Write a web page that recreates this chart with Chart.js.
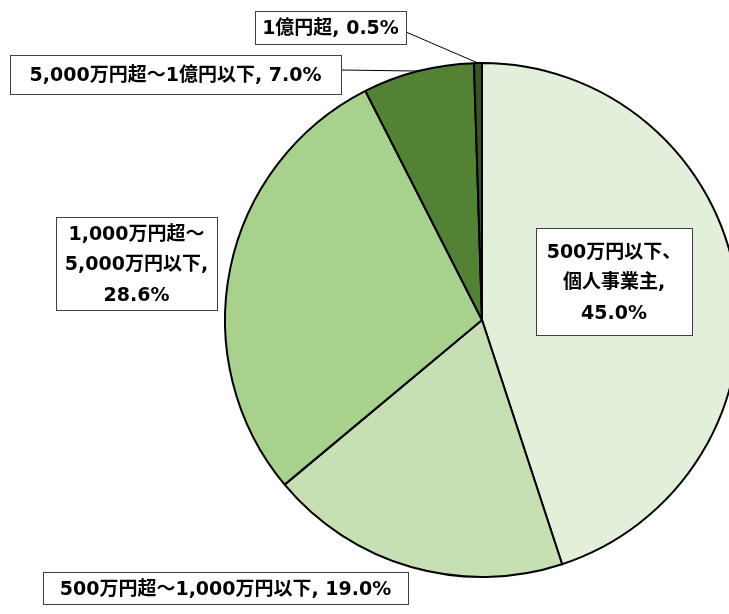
<!DOCTYPE html>
<html>
<head>
<meta charset="utf-8">
<script src="https://cdn.jsdelivr.net/npm/chart.js@4.4.1/dist/chart.umd.min.js"></script>
<style>
  html, body { margin: 0; padding: 0; background: #ffffff; overflow: hidden; }
  #wrap { width: 729px; height: 614px; overflow: hidden; }
</style>
</head>
<body>
<div id="wrap"><canvas id="pie" width="760" height="614"></canvas></div>
<script>
const categories = [
  "500万円以下、個人事業主",
  "500万円超～1,000万円以下",
  "1,000万円超～5,000万円以下",
  "5,000万円超～1億円以下",
  "1億円超",
];
const shares = [45.0, 19.0, 28.6, 7.0, 0.5];
const sliceColors = ["#E2EFDA", "#C6E0B4", "#A9D18E", "#548235", "#375623"];

// label text lines per slice
const labelLines = [
  ["500万円以下、", "個人事業主,", "45.0%"],
  ["500万円超～1,000万円以下, 19.0%"],
  ["1,000万円超～", "5,000万円以下,", "28.6%"],
  ["5,000万円超～1億円以下, 7.0%"],
  ["1億円超, 0.5%"],
];

// label box placement (left, top, right, bottom); leaderY = where the leader line leaves the box
const labelBoxes = [
  { x1: 536, y1: 228, x2: 692, y2: 335 },
  { x1: 43, y1: 572, x2: 408, y2: 604 },
  { x1: 56, y1: 217, x2: 217, y2: 310 },
  { x1: 10, y1: 55, x2: 341, y2: 94, leaderY: 70 },
  { x1: 255, y1: 11, x2: 406, y2: 44, leaderY: 32 },
];

const labelFont = 'bold 19px "DejaVu Sans", "Noto Sans CJK JP", sans-serif';

const boxLabels = {
  id: "boxLabels",
  afterDraw(chart) {
    const ctx = chart.ctx;
    const arcs = chart.getDatasetMeta(0).data;
    ctx.save();
    labelBoxes.forEach((b, i) => {
      const arc = arcs[i];
      if (b.leaderY !== undefined) {
        const mid = (arc.startAngle + arc.endAngle) / 2;
        const ex = arc.x + arc.outerRadius * Math.cos(mid);
        const ey = arc.y + arc.outerRadius * Math.sin(mid);
        ctx.beginPath();
        ctx.strokeStyle = "#000000";
        ctx.lineWidth = 1;
        ctx.moveTo(b.x2, b.leaderY);
        ctx.lineTo(ex, ey);
        ctx.stroke();
      }
      ctx.fillStyle = "#ffffff";
      ctx.fillRect(b.x1, b.y1, b.x2 - b.x1, b.y2 - b.y1);
      ctx.strokeStyle = "#404040";
      ctx.lineWidth = 1;
      ctx.strokeRect(b.x1 + 0.5, b.y1 + 0.5, b.x2 - b.x1, b.y2 - b.y1);

      const lines = labelLines[i];
      const lh = 30.5;
      const cx = (b.x1 + b.x2) / 2;
      const cy = (b.y1 + b.y2) / 2 + 2;
      ctx.fillStyle = "#000000";
      ctx.font = labelFont;
      ctx.textAlign = "center";
      ctx.textBaseline = "middle";
      lines.forEach((t, k) => {
        ctx.fillText(t, cx, cy + (k - (lines.length - 1) / 2) * lh);
      });
    });
    ctx.restore();
  },
};

new Chart(document.getElementById("pie"), {
  type: "pie",
  data: {
    labels: categories,
    datasets: [
      {
        data: shares,
        backgroundColor: sliceColors,
        borderColor: "#000000",
        borderWidth: 2,
      },
    ],
  },
  options: {
    responsive: false,
    animation: false,
    layout: {
      padding: { left: 224, right: 20, top: 62, bottom: 36 },
    },
    plugins: {
      legend: { display: false },
      tooltip: { enabled: false },
    },
  },
  plugins: [boxLabels],
});
</script>
</body>
</html>
